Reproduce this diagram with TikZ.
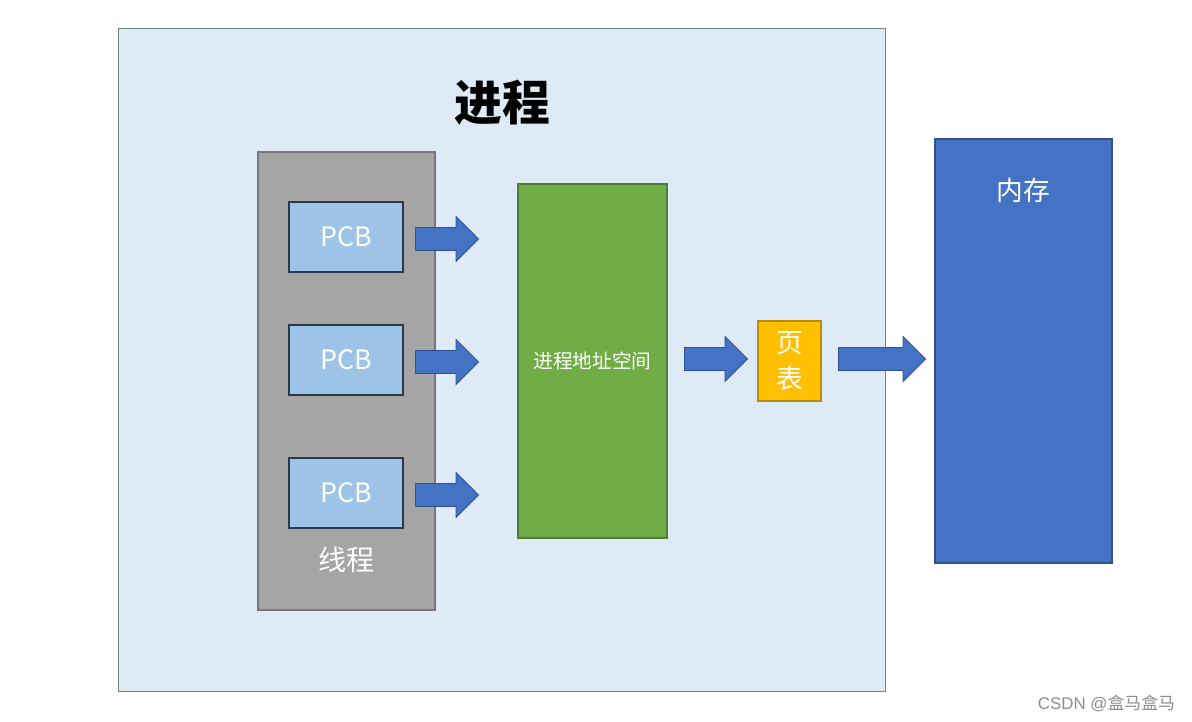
\documentclass[tikz,border=0pt]{standalone}
\usepackage{fontspec}
\setmainfont{Noto Sans CJK SC}
\newfontfamily\markfont{Liberation Sans}
\usetikzlibrary{shapes.arrows}
\definecolor{procfill}{RGB}{222,235,247}
\definecolor{procline}{RGB}{110,135,120}
\definecolor{thrfill}{RGB}{165,165,165}
\definecolor{thrline}{RGB}{120,120,120}
\definecolor{pcbfill}{RGB}{157,195,230}
\definecolor{pcbline}{RGB}{45,55,75}
\definecolor{spcfill}{RGB}{112,173,71}
\definecolor{spcline}{RGB}{80,126,50}
\definecolor{tblfill}{RGB}{255,192,0}
\definecolor{tblline}{RGB}{188,140,0}
\definecolor{memfill}{RGB}{68,114,196}
\definecolor{memline}{RGB}{47,82,143}
\tikzstyle{box}=[draw,rectangle,inner sep=0pt,line width=0.8pt]
\tikzstyle{pcb}=[box,fill=pcbfill,draw=pcbline,minimum width=2.85cm,minimum height=1.75cm,text=white,font=\fontsize{19}{22}\selectfont]
\tikzstyle{blockarrow}=[single arrow,draw=memline,fill=memfill,line width=0.6pt,inner xsep=0pt,inner ysep=0.275cm,single arrow head extend=0.275cm,minimum height=1.575cm,anchor=tail]

\begin{document}
\begin{tikzpicture}[x=0.025cm,y=-0.025cm]
\useasboundingbox (0,0) rectangle (1192,722);
\node[box,fill=procfill,draw=procline,minimum width=19.15cm,minimum height=16.55cm] (Proc) at (502,360) {};
\node[font=\fontsize{34}{40}\selectfont\bfseries] (ProcTitle) at (502,103) {进程};
\node[box,fill=thrfill,draw=thrline,minimum width=4.425cm,minimum height=11.45cm] (Thread) at (346.5,381) {};
\node[text=white,font=\fontsize{20}{24}\selectfont] (ThreadLbl) at (346.5,560) {线程};
\node[pcb] (Pcb1) at (346,237) {PCB};
\node[pcb] (Pcb2) at (346,360) {PCB};
\node[pcb] (Pcb3) at (346,493) {PCB};
\node[box,fill=spcfill,draw=spcline,minimum width=3.725cm,minimum height=8.85cm,text=white,font=\fontsize{14}{17}\selectfont] (Space) at (592.5,361) {进程地址空间};
\node[box,fill=tblfill,draw=tblline,minimum width=1.575cm,minimum height=2cm,text=white,font=\fontsize{19}{26}\selectfont,align=center] (Table) at (789.5,361) {页\\表};
\node[box,fill=memfill,draw=memline,minimum width=4.425cm,minimum height=10.6cm] (Mem) at (1023.5,351) {};
\node[text=white,font=\fontsize{19}{22}\selectfont] (MemLbl) at (1023.5,190) {内存};
\node[blockarrow] (Arr1) at (415,239) {};
\node[blockarrow] (Arr2) at (415,362) {};
\node[blockarrow] (Arr3) at (415,495) {};
\node[blockarrow] (Arr4) at (684,359) {};
\node[blockarrow,minimum height=2.175cm] (Arr5) at (838,359) {};
% watermark
\node[anchor=east,text=black!45,font=\fontsize{12}{14}\selectfont] (Mark) at (1180,704) {{\markfont CSDN @}盒马盒马};
\end{tikzpicture}
\end{document}
